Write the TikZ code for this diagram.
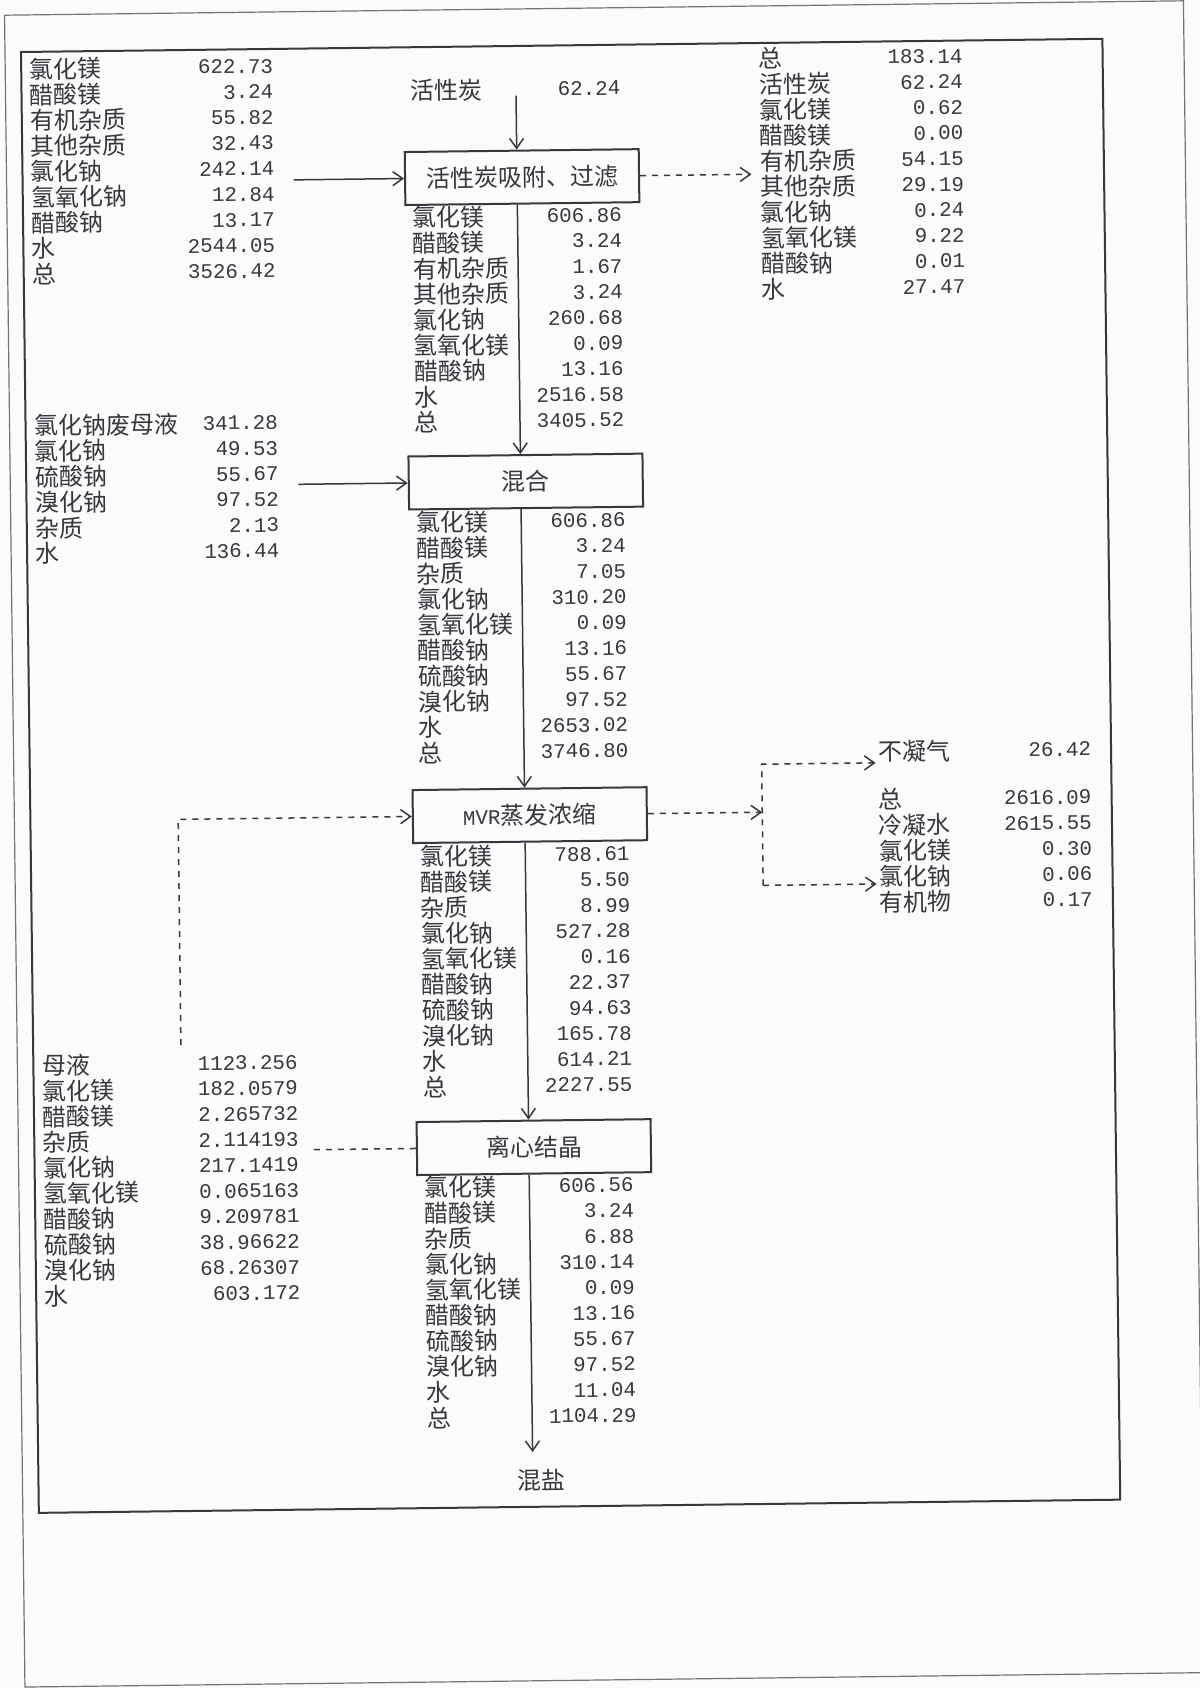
\documentclass[tikz,border=0pt]{standalone}
\usepackage{fontspec}
\setmainfont{Noto Sans CJK SC}
\newfontfamily\numfont[Scale=0.867]{Liberation Mono}
\usetikzlibrary{arrows.meta, calc}
\definecolor{paper}{RGB}{251,251,253}
\definecolor{ink}{RGB}{55,55,60}

\newcommand{\mrow}[2]{\smash{#1} & \smash{\raisebox{1.3pt}{\numfont #2}}\\}
\newcommand{\stream}[2]{\begin{tabular*}{#1}{@{}l@{\extracolsep{\fill}}r@{}}#2\end{tabular*}}

\begin{document}
\begin{tikzpicture}[x=0.5pt, y=0.5pt, line width=0.75pt, color=ink,
    >={Straight Barb[length=5pt, width=7pt]},
    proc/.style={draw, line width=1pt, minimum width=117pt, minimum height=26.5pt, inner sep=0pt, font=\fontsize{12}{12.8}\selectfont},
    list/.style={anchor=north west, inner sep=0pt, font=\fontsize{12}{12.8}\selectfont}]
    \fill[paper] (0,0) rectangle (1200,-1688);
    \useasboundingbox (0,0) rectangle (1200,-1688);
    \clip (0,0) rectangle (1200,-1688);
    \begin{scope}[shift={(21,-52)}, rotate=0.7, transform shape]
        \draw[black!55, line width=0.6pt] (-16,37) rectangle (1163,-1635);
        \draw[line width=1pt] (0,0) rectangle (1081.5,-1461);

        \node[proc] (adsorb) at (499.5,-131.2) {活性炭吸附、过滤};
        \node[proc] (mix) at (499.5,-435.7) {混合};
        \node[proc] (mvr) at (499.5,-769.3) {{\numfont MVR}蒸发浓缩};
        \node[proc] (cent) at (499.5,-1101.3) {离心结晶};

        \node[list] (feed) at (7.5,-7.9) {\stream{121.75pt}{
            \mrow{氯化镁}{622.73}
            \mrow{醋酸镁}{3.24}
            \mrow{有机杂质}{55.82}
            \mrow{其他杂质}{32.43}
            \mrow{氯化钠}{242.14}
            \mrow{氢氧化钠}{12.84}
            \mrow{醋酸钠}{13.17}
            \mrow{水}{2544.05}
            \mrow{总}{3526.42}}};
        \node[list] (carbon) at (388.5,-34) {\stream{104.75pt}{
            \mrow{活性炭}{62.24}}};
        \node[list] (s1) at (388.5,-161) {\stream{104.75pt}{
            \mrow{氯化镁}{606.86}
            \mrow{醋酸镁}{3.24}
            \mrow{有机杂质}{1.67}
            \mrow{其他杂质}{3.24}
            \mrow{氯化钠}{260.68}
            \mrow{氢氧化镁}{0.09}
            \mrow{醋酸钠}{13.16}
            \mrow{水}{2516.58}
            \mrow{总}{3405.52}}};
        \node[list] (waste) at (737,-6.3) {\stream{101.8pt}{
            \mrow{总}{183.14}
            \mrow{活性炭}{62.24}
            \mrow{氯化镁}{0.62}
            \mrow{醋酸镁}{0.00}
            \mrow{有机杂质}{54.15}
            \mrow{其他杂质}{29.19}
            \mrow{氯化钠}{0.24}
            \mrow{氢氧化镁}{9.22}
            \mrow{醋酸钠}{0.01}
            \mrow{水}{27.47}}};
        \node[list] (mixin) at (8,-364.4) {\stream{121.75pt}{
            \mrow{氯化钠废母液}{341.28}
            \mrow{氯化钠}{49.53}
            \mrow{硫酸钠}{55.67}
            \mrow{溴化钠}{97.52}
            \mrow{杂质}{2.13}
            \mrow{水}{136.44}}};
        \node[list] (s2) at (388.5,-466) {\stream{104.75pt}{
            \mrow{氯化镁}{606.86}
            \mrow{醋酸镁}{3.24}
            \mrow{杂质}{7.05}
            \mrow{氯化钠}{310.20}
            \mrow{氢氧化镁}{0.09}
            \mrow{醋酸钠}{13.16}
            \mrow{硫酸钠}{55.67}
            \mrow{溴化钠}{97.52}
            \mrow{水}{2653.02}
            \mrow{总}{3746.80}}};
        \node[list] (gas) at (848,-700.7) {\stream{106.3pt}{
            \mrow{不凝气}{26.42}}};
        \node[list] (cond) at (847.5,-748.7) {\stream{106.5pt}{
            \mrow{总}{2616.09}
            \mrow{冷凝水}{2615.55}
            \mrow{氯化镁}{0.30}
            \mrow{氯化钠}{0.06}
            \mrow{有机物}{0.17}}};
        \node[list] (s3) at (388.5,-800) {\stream{104.75pt}{
            \mrow{氯化镁}{788.61}
            \mrow{醋酸镁}{5.50}
            \mrow{杂质}{8.99}
            \mrow{氯化钠}{527.28}
            \mrow{氢氧化镁}{0.16}
            \mrow{醋酸钠}{22.37}
            \mrow{硫酸钠}{94.63}
            \mrow{溴化钠}{165.78}
            \mrow{水}{614.21}
            \mrow{总}{2227.55}}};
        \node[list] (liquor) at (7.8,-1004.4) {\stream{127.85pt}{
            \mrow{母液}{1123.256}
            \mrow{氯化镁}{182.0579}
            \mrow{醋酸镁}{2.265732}
            \mrow{杂质}{2.114193}
            \mrow{氯化钠}{217.1419}
            \mrow{氢氧化镁}{0.065163}
            \mrow{醋酸钠}{9.209781}
            \mrow{硫酸钠}{38.96622}
            \mrow{溴化钠}{68.26307}
            \mrow{水}{603.172}}};
        \node[list] (s4) at (388.5,-1131) {\stream{104.75pt}{
            \mrow{氯化镁}{606.56}
            \mrow{醋酸镁}{3.24}
            \mrow{杂质}{6.88}
            \mrow{氯化钠}{310.14}
            \mrow{氢氧化镁}{0.09}
            \mrow{醋酸钠}{13.16}
            \mrow{硫酸钠}{55.67}
            \mrow{溴化钠}{97.52}
            \mrow{水}{11.04}
            \mrow{总}{1104.29}}};
        \node[font=\fontsize{12}{12.8}\selectfont, inner sep=0pt] (salt) at (502.5,-1434.4) {混盐};

        \draw[->] ($(adsorb.north |- carbon.center)+(-5,-2)$) -- ($(adsorb.north)+(-5,0)$);
        \draw[->] ($(adsorb.south)+(-5,0)$) -- ($(mix.north)+(-5,0)$);
        \draw[->] ($(mix.south)+(-5,0)$) -- ($(mvr.north)+(-5,0)$);
        \draw[->] ($(mvr.south)+(-5,0)$) -- ($(cent.north)+(-5,0)$);
        \draw[->] ($(cent.south)+(-5,0)$) -- ($(cent.south |- salt.center)+(-5,28)$);

        \draw[->] ($(feed.east |- adsorb.west)+(18.5,0)$) -- (adsorb.west);
        \draw[->] ($(mixin.east |- mix.west)+(19,0)$) -- (mix.west);
        \draw[->, dashed] (adsorb.east) -- ($(waste.west |- adsorb.east)+(-8,0)$);

        \coordinate (split) at (732,-769.3);
        \draw[->, dashed] (mvr.east) -- (split);
        \draw[->, dashed] ($(split |- cond.west)+(0,-29)$) -- ($(split |- gas.west)+(0,-7)$) -- ($(gas.west)+(-2,-7)$);
        \draw[->, dashed] ($(split |- cond.west)+(0,-29)$) -- ($(cond.west)+(-2,-29)$);

        \draw[->, dashed] ($(liquor.north)+(11.4,9.4)$) |- (mvr.west);
        \draw[dashed] (cent.west) -- ($(liquor.east |- cent.west)+(12,0)$);
    \end{scope}
\end{tikzpicture}
\end{document}
